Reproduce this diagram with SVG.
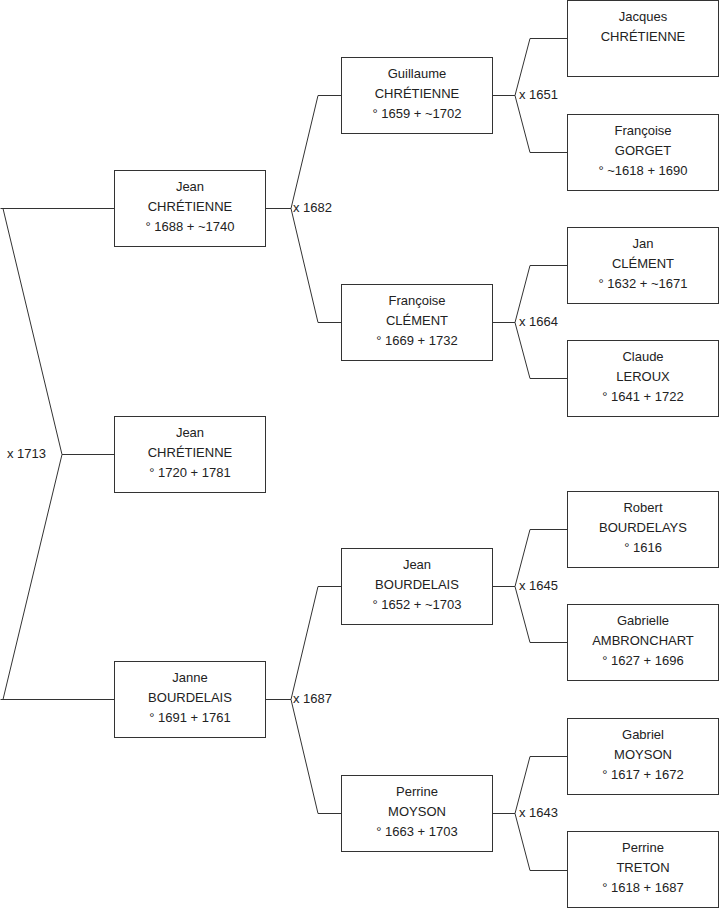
<svg xmlns="http://www.w3.org/2000/svg" width="719" height="908" viewBox="0 0 719 908">
<style>
.box{fill:#fff;stroke:#333;stroke-width:1}
.t{font-family:"Liberation Sans",Arial,sans-serif;font-size:13px;fill:#222;text-anchor:middle}
.lbl{font-family:"Liberation Sans",Arial,sans-serif;font-size:13px;fill:#222}
.c{fill:none;stroke:#333;stroke-width:1}
</style>
<rect width="719" height="908" fill="#fff"/>
<g id="connectors">
<path class="c" d="M114,208.5 H0.5 M3,208.5 L62,454.5 L3,699.5 M0.5,699.5 H114 M62,454.5 H114"/>
<path class="c" d="M265,208.5 H291 M318,95.5 L291,208.5 L318,322.5 M318,95.5 H341 M318,322.5 H341"/>
<path class="c" d="M265,699.5 H291 M318,586.5 L291,699.5 L318,813.5 M318,586.5 H341 M318,813.5 H341"/>
<path class="c" d="M492,95.5 H515 M530,38.5 L515,95.5 L530,152.5 M530,38.5 H567 M530,152.5 H567"/>
<path class="c" d="M492,322.5 H515 M530,265.5 L515,322.5 L530,378.5 M530,265.5 H567 M530,378.5 H567"/>
<path class="c" d="M492,586.5 H515 M530,529.5 L515,586.5 L530,642.5 M530,529.5 H567 M530,642.5 H567"/>
<path class="c" d="M492,813.5 H515 M530,756.5 L515,813.5 L530,870.5 M530,756.5 H567 M530,870.5 H567"/>
<text class="lbl" x="7" y="458">x 1713</text>
<text class="lbl" x="293" y="212">x 1682</text>
<text class="lbl" x="293" y="703">x 1687</text>
<text class="lbl" x="519" y="99">x 1651</text>
<text class="lbl" x="519" y="326">x 1664</text>
<text class="lbl" x="519" y="590">x 1645</text>
<text class="lbl" x="519" y="817">x 1643</text>
</g>
<g id="n-jean-1688">
<rect class="box" x="114.5" y="170.5" width="151" height="76"/>
<text class="t" x="190" y="191">Jean</text><text class="t" x="190" y="211">CHRÉTIENNE</text><text class="t" x="190" y="231">° 1688 + ~1740</text>
</g>
<g id="n-jean-1720">
<rect class="box" x="114.5" y="416.5" width="151" height="76"/>
<text class="t" x="190" y="437">Jean</text><text class="t" x="190" y="457">CHRÉTIENNE</text><text class="t" x="190" y="477">° 1720 + 1781</text>
</g>
<g id="n-janne">
<rect class="box" x="114.5" y="661.5" width="151" height="76"/>
<text class="t" x="190" y="682">Janne</text><text class="t" x="190" y="702">BOURDELAIS</text><text class="t" x="190" y="722">° 1691 + 1761</text>
</g>
<g id="n-guillaume">
<rect class="box" x="341.5" y="57.5" width="151" height="76"/>
<text class="t" x="417" y="78">Guillaume</text><text class="t" x="417" y="98">CHRÉTIENNE</text><text class="t" x="417" y="118">° 1659 + ~1702</text>
</g>
<g id="n-francoise-clement">
<rect class="box" x="341.5" y="284.5" width="151" height="76"/>
<text class="t" x="417" y="305">Françoise</text><text class="t" x="417" y="325">CLÉMENT</text><text class="t" x="417" y="345">° 1669 + 1732</text>
</g>
<g id="n-jean-bourdelais">
<rect class="box" x="341.5" y="548.5" width="151" height="76"/>
<text class="t" x="417" y="569">Jean</text><text class="t" x="417" y="589">BOURDELAIS</text><text class="t" x="417" y="609">° 1652 + ~1703</text>
</g>
<g id="n-perrine-moyson">
<rect class="box" x="341.5" y="775.5" width="151" height="76"/>
<text class="t" x="417" y="796">Perrine</text><text class="t" x="417" y="816">MOYSON</text><text class="t" x="417" y="836">° 1663 + 1703</text>
</g>
<g id="n-jacques">
<rect class="box" x="567.5" y="0.5" width="151" height="76"/>
<text class="t" x="643" y="21">Jacques</text><text class="t" x="643" y="41">CHRÉTIENNE</text>
</g>
<g id="n-francoise-gorget">
<rect class="box" x="567.5" y="114.5" width="151" height="76"/>
<text class="t" x="643" y="135">Françoise</text><text class="t" x="643" y="155">GORGET</text><text class="t" x="643" y="175">° ~1618 + 1690</text>
</g>
<g id="n-jan-clement">
<rect class="box" x="567.5" y="227.5" width="151" height="76"/>
<text class="t" x="643" y="248">Jan</text><text class="t" x="643" y="268">CLÉMENT</text><text class="t" x="643" y="288">° 1632 + ~1671</text>
</g>
<g id="n-claude-leroux">
<rect class="box" x="567.5" y="340.5" width="151" height="76"/>
<text class="t" x="643" y="361">Claude</text><text class="t" x="643" y="381">LEROUX</text><text class="t" x="643" y="401">° 1641 + 1722</text>
</g>
<g id="n-robert">
<rect class="box" x="567.5" y="491.5" width="151" height="76"/>
<text class="t" x="643" y="512">Robert</text><text class="t" x="643" y="532">BOURDELAYS</text><text class="t" x="643" y="552">° 1616</text>
</g>
<g id="n-gabrielle">
<rect class="box" x="567.5" y="604.5" width="151" height="76"/>
<text class="t" x="643" y="625">Gabrielle</text><text class="t" x="643" y="645">AMBRONCHART</text><text class="t" x="643" y="665">° 1627 + 1696</text>
</g>
<g id="n-gabriel">
<rect class="box" x="567.5" y="718.5" width="151" height="76"/>
<text class="t" x="643" y="739">Gabriel</text><text class="t" x="643" y="759">MOYSON</text><text class="t" x="643" y="779">° 1617 + 1672</text>
</g>
<g id="n-perrine-treton">
<rect class="box" x="567.5" y="831.5" width="151" height="76"/>
<text class="t" x="643" y="852">Perrine</text><text class="t" x="643" y="872">TRETON</text><text class="t" x="643" y="892">° 1618 + 1687</text>
</g>
</svg>
